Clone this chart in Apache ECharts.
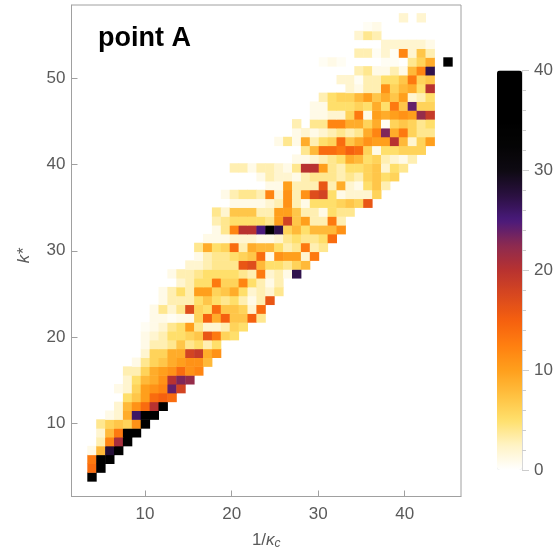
<!DOCTYPE html>
<html>
<head>
<meta charset="utf-8">
<style>
html,body{margin:0;padding:0;background:#fff}
#c{width:556px;height:558px;filter:blur(0.7px)}
</style>
<script src="https://cdn.jsdelivr.net/npm/echarts@6/dist/echarts.min.js"></script>
</head>
<body>
<div id="c"></div>
<script>
const titleText = 'point A';
const xAxisCategories = ['2','3','4','5','6','7','8','9','10','11','12','13','14','15','16','17','18','19','20','21','22','23','24','25','26','27','28','29','30','31','32','33','34','35','36','37','38','39','40','41','42','43','44','45','46'];
const yAxisCategories = ['2','3','4','5','6','7','8','9','10','11','12','13','14','15','16','17','18','19','20','21','22','23','24','25','26','27','28','29','30','31','32','33','34','35','36','37','38','39','40','41','42','43','44','45','46','47','48','49','50','51','52','53','54','55','56','57','58'];
const colorbarTicks = [0,10,20,30,40];
const columnCount = 41;
const rowStart = [0,0,0,0,1,1,1,2,3,4,3,4,4,5,6,6,6,6,7,7,8,8,10,9,11,12,12,13,14,14,14,16,15,20,19,16,23,24,21,23,23,25,25,26,29,28,30,26,30,33,30,31,35];
const r00=[40];
const r01=[14,40];
const r02=[13,40,36];
const r03=[1,8,28,38];
const r04=[3,12,21,38];
const r05=[2,8,13,38,38];
const r06=[4,6,7,6,11,38];
const r07=[1,2,9,26,38,38];
const r08=[2,8,11,14,20,36];
const r09=[5,7,10,14,15,14];
const r10=[1,2,6,10,11,12,24,18];
const r11=[2,5,8,9,11,20,23,22];
const r12=[3,3,6,9,10,11,14,11,12];
const r13=[1,4,6,7,9,10,11,11,8];
const r14=[2,6,6,9,9,18,19,9,11];
const r15=[1,3,3,4,7,4,5,3,5];
const r16=[1,2,3,5,5,6,7,16,13,6,5];
const r17=[0.5,1,2,4,5,10,4,2,2,3,6,5];
const r18=[1,1,0.5,1,1,6,15,9,15,7,7,15,4];
const r19=[1,4,2,4,17,6,5,14,7,7,6,2,14];
const r20=[1,3,3,3,5,7,5,4,5,3,1,3,16];
const r21=[1,3,5,3,10,10,6,7,9,5,2,3,2,4];
const r22=[2,3,5,5,13,6,6,12,5,3,1,3];
const r23=[1,3,3,4,5,5,5,5,4,3,13,2,3,1,27];
const r24=[2,2,3,4,4,4,16,17,8,5,5,4,6,8];
const r25=[1,3,4,4,5,6,7,14,1,11,10,10,2,13];
const r26=[4,9,5,6,14,3,9,8,8,5,3,4,13,3,4];
const r27=[1,1,1,2,2,2,1,1,2,4,5,4,4,5,14];
const r28=[1,4,12,20,20,25,38,27,6,8,5,8,8,8,11];
const r29=[3,4,5,5,5,5,4,10,18,7,10,3,3,13,3];
const r30=[4,2,7,7,7,3,3,10,10,7,3,3,1,5,4,4];
const r31=[1,1,1,1,2,3,11,3,1,5,5,5,6,7,6,16];
const r32=[1,3,4,4,3,12,2,11,3,11,17,18,5,1,2,2,2,6];
const r33=[1,1,10,3,3,3,16,3,9,2,1,5,7,3];
const r34=[1,3,2,2,1,3,4,4,4,3,4,3,6,7,5,6];
const r35=[3,3,1,3,3,2,1,4,20,20,10,4,3,5,5,6,7,2,5,4];
const r36=[1,1,2,3,4,5,9,8,5,6,3,2,1,3];
const r37=[4,8,14,14,13,15,14,6,1,5,5,6,6,6];
const r38=[1,4,1,9,3,5,6,14,7,9,11,10,10,20,8,2,6,10];
const r39=[1,2,1,2,3,4,3,4,9,12,23,9,13,6,4,4];
const r40=[3,0,4,4,12,12,9,9,6,9,0.5,6,7,6,4,5];
const r41=[1,1,2,2,6,13,1,10,9,10,11,10,22,19];
const r42=[1,1,5,5,5,6,5,9,5,13,7,24,6,6];
const r43=[3,5,6,6,8,10,7,9,7,10,2,3,5];
const r44=[2,1,3,3,11,6,8,9,5,20];
const r45=[2,2,0.5,3,3,5,5,7,13,6,7];
const r46=[3,4,1,1,3,1,8,12,27];
const r47=[0.5,1,0.5,0,0,0,0,0.5,0.5,0,4,6,9,0,40];
const r48=[3,3,0.5,2,0.5,12,2,7,3];
const r49=[2,2,2,2,2,1];
const r50=[2,4,3];
const r51=[0.5,1];
const r52=[2,0,2];
const rowValues = [r00,r01,r02,r03,r04,r05,r06,r07,r08,r09,r10,r11,r12,r13,r14,r15,r16,r17,r18,r19,r20,r21,r22,r23,r24,r25,r26,r27,r28,r29,r30,r31,r32,r33,r34,r35,r36,r37,r38,r39,r40,r41,r42,r43,r44,r45,r46,r47,r48,r49,r50,r51,r52];
const colorStops = ['#ffffff','#fff3c4','#ffdf6b','#ffc040','#ff9f1c','#ff7f10','#f5600f','#d8481f','#b83230','#8c2a50','#4a1a7c','#2a1040','#0e0a12','#040404','#000000','#000000','#000000'];

const cells = [];
rowValues.forEach((vals, m) => vals.forEach((v, i) => { if (v > 0) cells.push([rowStart[m] + i, m, v]); }));
const colCats = Array.from({length: columnCount}, (_, i) => String(i));
const rowCats = rowValues.map((_, i) => String(i));

const tickGray = '#a0a0a0';
const labelGray = '#5a5a5a';
const font = '"Liberation Sans", Arial, sans-serif';
const decade = (i, v) => Number(v) % 10 === 0;

const chart = echarts.init(document.getElementById('c'), null, {renderer: 'canvas'});
chart.setOption({
  animation: false,
  backgroundColor: '#fff',
  title: {text: titleText, left: 98, top: 25, padding: 0,
    textStyle: {fontFamily: font, fontWeight: 'bold', fontSize: 27, color: '#000'}},
  grid: [
    {left: 71.5, top: 5, width: 389.5, height: 491.5, show: true, borderColor: tickGray, borderWidth: 1, z: 1, containLabel: false},
    {left: 87.55, top: 13.4, width: 364.9, height: 468, z: 2},
    {left: 497, top: 70.5, width: 25, height: 399.5, z: 2}
  ],
  xAxis: [
    {gridIndex: 0, type: 'category', data: xAxisCategories, position: 'bottom',
      name: '{a|1/}{k|κ}{c|c}', nameLocation: 'middle', nameGap: 34,
      nameTextStyle: {rich: {
        a: {fontFamily: font, fontSize: 17, color: labelGray},
        k: {fontFamily: font, fontStyle: 'italic', fontSize: 17, color: labelGray},
        c: {fontFamily: font, fontStyle: 'italic', fontSize: 12, color: labelGray, padding: [7,0,0,0]}
      }},
      axisLine: {show: true, lineStyle: {color: tickGray, width: 1}},
      axisTick: {show: true, inside: true, length: 6, alignWithLabel: true, interval: decade, lineStyle: {color: tickGray, width: 1}},
      axisLabel: {interval: decade, fontFamily: font, fontSize: 17, color: labelGray, margin: 9},
      splitLine: {show: false}},
    {gridIndex: 1, type: 'category', data: colCats, show: false},
    {gridIndex: 2, type: 'value', min: 0, max: 1, show: false, axisLine: {onZero: false}}
  ],
  yAxis: [
    {gridIndex: 0, type: 'category', data: yAxisCategories, position: 'left',
      name: 'k*', nameLocation: 'middle', nameGap: 39, nameRotate: 90,
      nameTextStyle: {fontFamily: font, fontStyle: 'italic', fontSize: 17, color: labelGray, padding: [0,10,0,0]},
      axisLine: {show: true, lineStyle: {color: tickGray, width: 1}},
      axisTick: {show: true, inside: true, length: 6, alignWithLabel: true, interval: decade, lineStyle: {color: tickGray, width: 1}},
      axisLabel: {interval: decade, fontFamily: font, fontSize: 17, color: labelGray, margin: 6},
      splitLine: {show: false}},
    {gridIndex: 1, type: 'category', data: rowCats, show: false},
    {gridIndex: 2, type: 'value', min: colorbarTicks[0], max: colorbarTicks[4], interval: 10, position: 'right',
      axisLine: {show: true, onZero: false, lineStyle: {color: '#d8d8d8', width: 1}},
      axisTick: {show: true, inside: false, length: 7, lineStyle: {color: '#cccccc'}},
      minorTick: {show: true, splitNumber: 5, length: 4, lineStyle: {color: '#cccccc'}},
      axisLabel: {fontFamily: font, fontSize: 17, color: labelGray, margin: 12},
      splitLine: {show: false}, minorSplitLine: {show: false}, z: 5}
  ],
  visualMap: {
    type: 'continuous', seriesIndex: 0, min: 0, max: 40, left: 497, top: 70.5,
    itemWidth: 25, itemHeight: 399.5, padding: 0, calculable: false, text: null,
    showLabel: false, inRange: {color: colorStops}, borderWidth: 0
  },
  series: [{
    type: 'heatmap', xAxisIndex: 1, yAxisIndex: 1, data: cells,
    progressive: 0, itemStyle: {borderWidth: 0}, emphasis: {disabled: true}
  }]
});
</script>
</body>
</html>
